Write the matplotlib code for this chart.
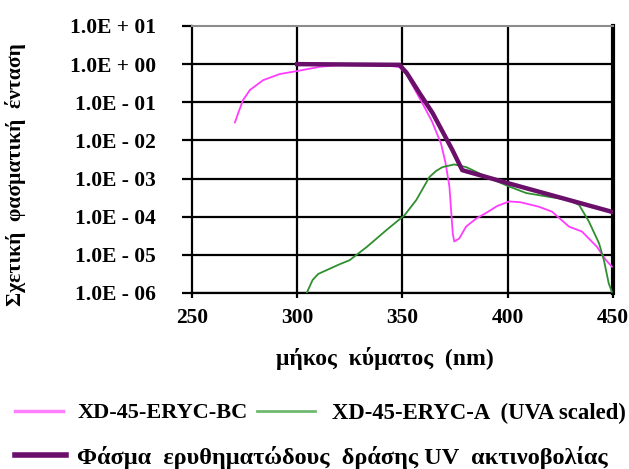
import numpy as np
import matplotlib
matplotlib.use('Agg')
import matplotlib.pyplot as plt

plt.rcParams['font.family'] = ['Liberation Serif', 'DejaVu Serif']
plt.rcParams['font.weight'] = 'bold'
plt.rcParams['axes.labelweight'] = 'bold'

# XD-45-ERYC-BC (log10 of relative intensity)
bc_nm = [270.4, 271.9, 274.3, 277.5, 283.8, 291.7, 300.1, 310.7, 324.9, 335.0, 345.3,
         348.6, 352.0, 356.6, 360.0, 364.0, 368.3, 370.5, 372.3, 373.9, 374.6, 377.0,
         380.2, 385.0, 389.8, 395.0, 400.7, 406.0, 414.9, 421.1, 429.1, 435.3, 442.4,
         446.7, 449.5]
bc_log = [-1.53, -1.29, -0.94, -0.68, -0.42, -0.26, -0.18, -0.07, 0.0, -0.01, -0.05,
          -0.08, -0.27, -0.74, -1.08, -1.5, -2.08, -2.6, -3.21, -4.44, -4.65, -4.57,
          -4.26, -4.05, -3.9, -3.72, -3.6, -3.62, -3.74, -3.87, -4.26, -4.39, -4.79,
          -5.14, -5.31]

# XD-45-ERYC-A (UVA scaled)
a_nm = [304.5, 307.3, 310.0, 314.0, 320.0, 324.9, 332.9, 342.4, 351.0, 356.6, 362.8,
        366.0, 369.0, 374.6, 380.3, 387.9, 394.0, 400.7, 408.8, 419.7, 428.0, 433.9,
        438.6, 443.4, 445.7, 448.0, 449.5]
a_log = [-6.0, -5.66, -5.5, -5.4, -5.25, -5.14, -4.8, -4.35, -3.96, -3.56, -2.96,
         -2.8, -2.7, -2.63, -2.7, -2.9, -3.05, -3.21, -3.38, -3.48, -3.55, -3.69,
         -4.13, -4.7, -5.14, -5.75, -5.97]

# erythema action spectrum
ery_nm = [300.0, 348.6, 352.0, 358.0, 364.4, 373.7, 378.4, 400.7, 450.0]
ery_log = [0.0, -0.02, -0.23, -0.75, -1.29, -2.25, -2.78, -3.13, -3.88]

ytick_vals = [1e-6, 1e-5, 1e-4, 1e-3, 1e-2, 1e-1, 1e0, 1e1]
ytick_labels = ['1.0E - 06', '1.0E - 05', '1.0E - 04', '1.0E - 03',
                '1.0E - 02', '1.0E - 01', '1.0E + 00', '1.0E + 01']
xtick_vals = [250, 300, 350, 400, 450]

fig = plt.figure(figsize=(6.29, 4.69), dpi=100)
ax = fig.add_axes([0.3052, 0.3753, 0.6693, 0.5693])

l_bc, = ax.plot(bc_nm, 10 ** np.array(bc_log), color='#ff3cff', lw=1.3,
                label='XD-45-ERYC-BC', zorder=3)
l_a, = ax.plot(a_nm, 10 ** np.array(a_log), color='#2f8f2f', lw=1.3,
               label='XD-45-ERYC-A  (UVA scaled)', zorder=3)
l_e, = ax.plot(ery_nm, 10 ** np.array(ery_log), color='#6a0f6a', lw=3.2,
               label='Φάσμα  ερυθηματώδους  δράσης UV  ακτινοβολίας', zorder=4)

ax.set_yscale('log')
ax.set_xlim(250, 450)
ax.set_ylim(1e-6, 1e1)
ax.set_yticks(ytick_vals, ytick_labels)
ax.minorticks_off()
ax.set_xticks(xtick_vals)

for y in ytick_vals[:-1]:
    ax.axhline(y, color='black', lw=1.6, zorder=1)
for x in xtick_vals[1:-1]:
    ax.axvline(x, color='black', lw=1.6, zorder=1)

for s in ['left', 'bottom']:
    ax.spines[s].set_linewidth(1.6)
ax.spines['right'].set_linewidth(3.0)
ax.spines['top'].set_color('#8c8c8c')
ax.spines['top'].set_linewidth(1.5)

ax.tick_params(axis='y', direction='out', length=7, width=1.6, pad=19, labelsize=15.5)
ax.tick_params(axis='x', direction='out', length=3.5, width=1.6, pad=7, labelsize=15.5)

ax.set_xlabel('μήκος  κύματος  (nm)', fontsize=17)
ax.xaxis.set_label_coords(0.458, -0.202)
ax.set_ylabel('Σχετική  φασματική  ένταση', fontsize=15.5)
ax.yaxis.set_label_coords(-0.395, 0.442)

kw = dict(loc='center left', frameon=False, borderpad=0, borderaxespad=0)
leg1 = fig.legend(handles=[l_bc], bbox_to_anchor=(15 / 629, 1 - 413 / 469),
                  fontsize=16, handlelength=2.15, handletextpad=0.68, **kw)
leg2 = fig.legend(handles=[l_a], bbox_to_anchor=(257 / 629, 1 - 413 / 469),
                  fontsize=16.4, handlelength=2.55, handletextpad=0.75, **kw)
leg3 = fig.legend(handles=[l_e], bbox_to_anchor=(15 / 629, 1 - 457 / 469),
                  fontsize=17.5, handlelength=2.1, handletextpad=0.45, **kw)
leg1.get_lines()[0].set_color('#ff80ff')
leg1.get_lines()[0].set_linewidth(2.5)
leg2.get_lines()[0].set_color('#70b870')
leg2.get_lines()[0].set_linewidth(2.0)
leg3.get_lines()[0].set_linewidth(4)

fig.savefig('out.png', dpi=100)
